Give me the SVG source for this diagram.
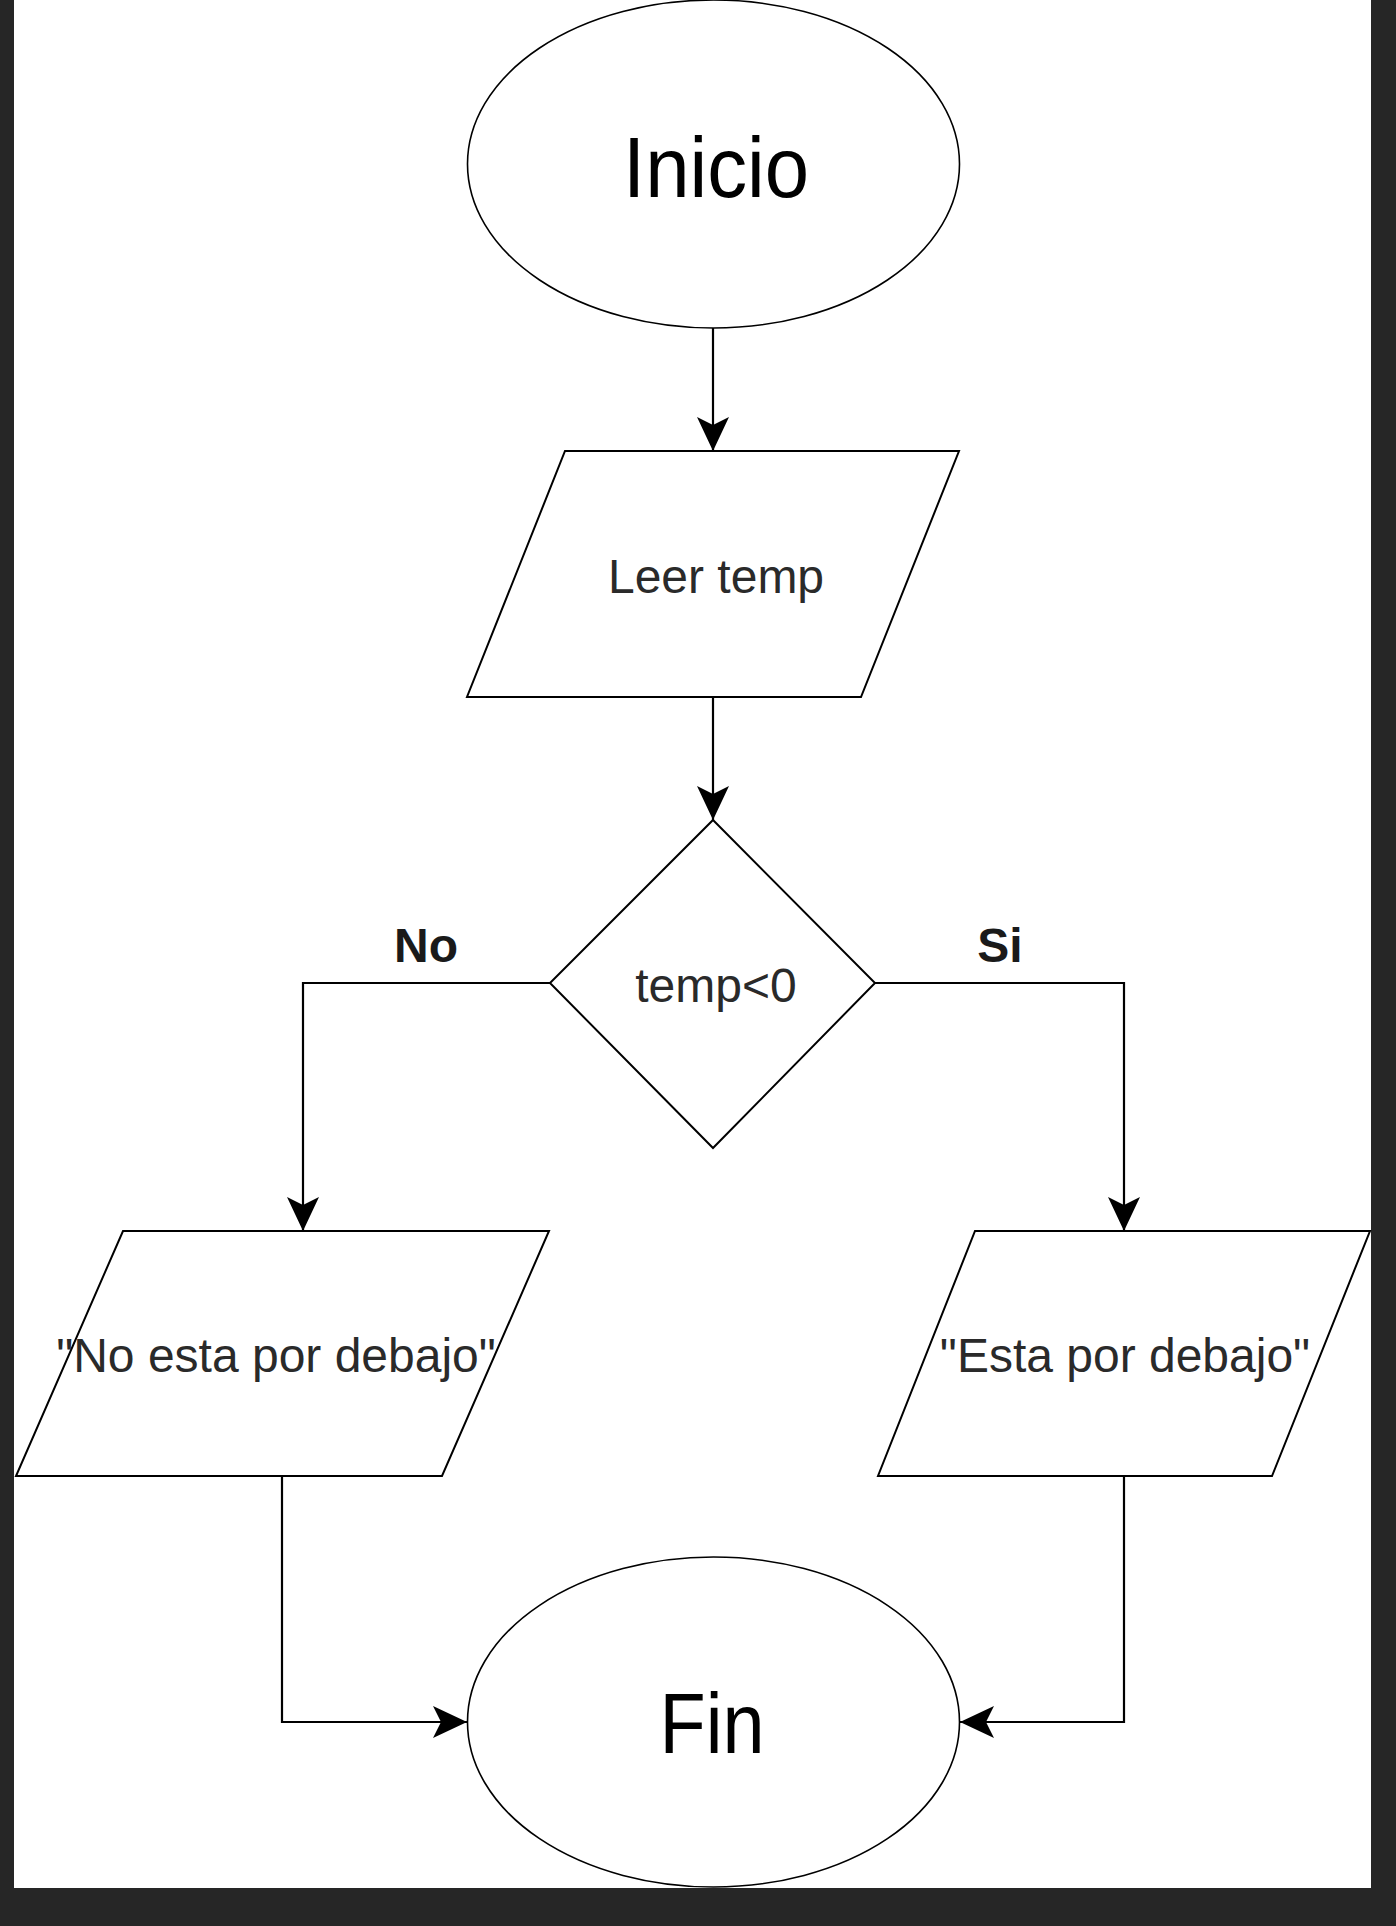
<svg xmlns="http://www.w3.org/2000/svg" width="1396" height="1926" viewBox="0 0 1396 1926">
  <style>
    .shape { fill: #ffffff; stroke: #000000; stroke-width: 2; }
    .term { fill: #ffffff; stroke: #000000; stroke-width: 1.6; }
    .edge { fill: none; stroke: #000000; stroke-width: 2.2; marker-end: url(#arrow); }
    .big { font-family: "Liberation Sans", Arial, sans-serif; font-size: 86px; fill: #000000; text-anchor: middle; }
    .lbl { font-family: "Liberation Sans", Arial, sans-serif; font-size: 48px; fill: #2a2a2a; text-anchor: middle; }
    .edgelbl { font-family: "Liberation Sans", Arial, sans-serif; font-size: 48px; font-weight: bold; fill: #1a1a1a; text-anchor: middle; }
  </style>
  <defs>
    <marker id="arrow" markerUnits="userSpaceOnUse" markerWidth="36" markerHeight="34" refX="34" refY="16" orient="auto" overflow="visible">
      <path d="M0,0 L34,16 L0,32 L8,16 Z" fill="#000000"/>
    </marker>
  </defs>

  <!-- page frame -->
  <rect x="0" y="0" width="1396" height="1926" fill="#262626"/>
  <rect x="14" y="0" width="1357" height="1888" fill="#ffffff"/>

  <!-- connectors -->
  <g id="connectors">
    <path class="edge" d="M713,328 V451"/>
    <path class="edge" d="M713,697 V820"/>
    <path class="edge" d="M550,983 H303 V1231"/>
    <path class="edge" d="M875,983 H1124 V1231"/>
    <path class="edge" d="M282,1476 V1722 H467"/>
    <path class="edge" d="M1124,1476 V1722 H960"/>
    <text class="edgelbl" x="426" y="962">No</text>
    <text class="edgelbl" x="1000" y="962">Si</text>
  </g>

  <g id="inicio">
    <ellipse class="term" cx="713.5" cy="164" rx="246" ry="164"/>
    <text class="big" x="716" y="197" textLength="186" lengthAdjust="spacingAndGlyphs">Inicio</text>
  </g>

  <g id="leer-temp">
    <polygon class="shape" points="565,451 959,451 861,697 467,697"/>
    <text class="lbl" x="716" y="593">Leer temp</text>
  </g>

  <g id="decision">
    <polygon class="shape" points="713,820 875,983 713,1148 550,983"/>
    <text class="lbl" x="716" y="1002">temp&lt;0</text>
  </g>

  <g id="out-no">
    <polygon class="shape" points="123,1231 549,1231 442,1476 16,1476"/>
    <text class="lbl" x="276" y="1372">"No esta por debajo"</text>
  </g>

  <g id="out-si">
    <polygon class="shape" points="975,1231 1370,1231 1272,1476 878,1476"/>
    <text class="lbl" x="1125" y="1372">"Esta por debajo"</text>
  </g>

  <g id="fin">
    <ellipse class="term" cx="713.5" cy="1722" rx="246" ry="165"/>
    <text class="big" x="712" y="1753" textLength="105" lengthAdjust="spacingAndGlyphs">Fin</text>
  </g>
</svg>
